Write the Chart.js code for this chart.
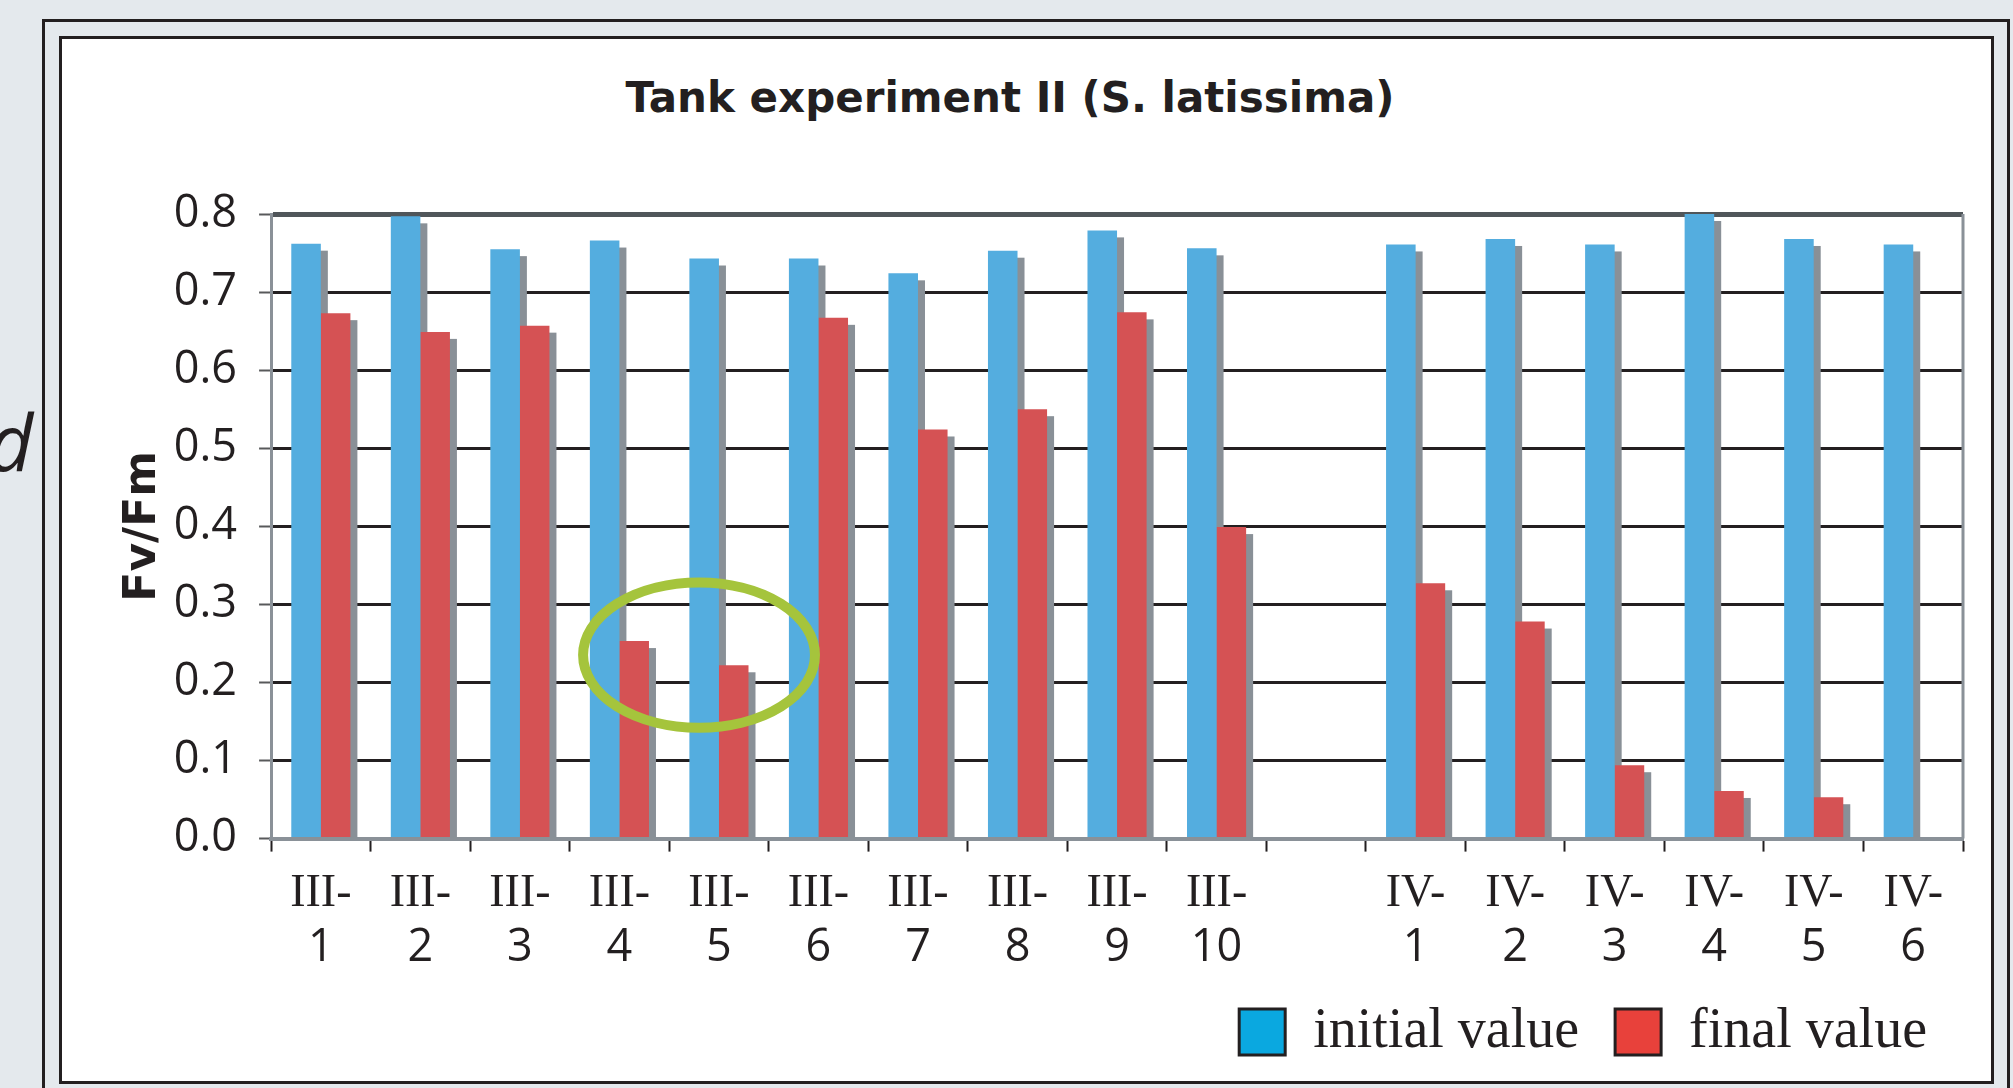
<!DOCTYPE html>
<html>
<head>
<meta charset="utf-8">
<title>Tank experiment II (S. latissima)</title>
<script src="https://cdn.jsdelivr.net/npm/chart.js@4.4.1/dist/chart.umd.min.js"></script>
<style>
    html, body { margin: 0; padding: 0; }
    body { width: 2013px; height: 1088px; background: #e4e9ed; position: relative; overflow: hidden; }
    #outerFrame { position: absolute; left: 42px; top: 19px; width: 1968px; height: 1120px; border: 3px solid #231f20; box-sizing: border-box; }
    #innerFrame { position: absolute; left: 59px; top: 36px; width: 1935px; height: 1048px; border: 3px solid #231f20; box-sizing: border-box; background: #ffffff; }
    #chartTitle { position: absolute; left: 0; top: 77px; width: 2020px; text-align: center; font-family: 'DejaVu Sans'; font-weight: bold; font-size: 42px; line-height: 41px; color: #231f20; }
    #pageFragment { position: absolute; left: -12px; top: 402px; font-family: 'Open Sans'; font-style: italic; font-weight: 400; font-size: 78px; line-height: 78px; color: #231f20; }
    #chartBox { position: absolute; left: 62px; top: 39px; width: 1928px; height: 1041px; }
</style>
</head>
<body>
<div id="pageFragment">d</div>
<div id="outerFrame"></div>
<div id="innerFrame"></div>
<div id="chartTitle">Tank experiment II (S. latissima)</div>
<div id="chartBox"><canvas id="tankGraph"></canvas></div>
<script>
// x labels, split in two rows like the original (roman part / number part)
const seriesRoman = ['III-', 'III-', 'III-', 'III-', 'III-', 'III-', 'III-', 'III-', 'III-', 'III-', '',
    'IV-', 'IV-', 'IV-', 'IV-', 'IV-', 'IV-'];
const seriesNumber = ['1', '2', '3', '4', '5', '6', '7', '8', '9', '10', '',
    '1', '2', '3', '4', '5', '6'];

// Fv/Fm values
const initialValues = [0.762, 0.797, 0.755, 0.766, 0.743, 0.743, 0.724, 0.753, 0.779, 0.756, null,
    0.761, 0.768, 0.761, 0.800, 0.768, 0.761];
const finalValues = [0.673, 0.649, 0.657, 0.253, 0.222, 0.667, 0.524, 0.550, 0.674, 0.399, null,
    0.327, 0.278, 0.094, 0.061, 0.053, null];

const seriesNames = ['initial value', 'final value'];
const yTicks = [0.0, 0.1, 0.2, 0.3, 0.4, 0.5, 0.6, 0.7, 0.8];

// highlight ellipse around III-4 / III-5 (category index, value, radii in category / value units)
const highlightCenter = [3.8, 0.235];
const highlightRadius = [1.165, 0.093];

const BAR_BLUE = '#54addf';
const BAR_RED = '#d55254';
const LEGEND_BLUE = '#0aa8e0';
const LEGEND_RED = '#e8413b';
const SHADOW_GRAY = '#899097';
const AXIS_GRAY = '#8a9198';
const INK = '#231f20';
const SHADOW_OFFSET = 7;

// draws the grey offset "3d" shadow behind each bar, the right frame and the green ellipse
const barDecorPlugin = {
    id: 'barDecor',
    beforeDatasetsDraw(chart) {
        const { ctx, chartArea } = chart;
        ctx.save();
        ctx.beginPath();
        ctx.rect(chartArea.left, chartArea.top, chartArea.width, chartArea.height);
        ctx.clip();
        ctx.fillStyle = SHADOW_GRAY;
        chart.data.datasets.forEach((ds, i) => {
            chart.getDatasetMeta(i).data.forEach((bar, j) => {
                if (ds.data[j] === null) return;
                const p = bar.getProps(['x', 'y', 'base', 'width'], true);
                ctx.fillRect(p.x - p.width / 2 + SHADOW_OFFSET, p.y + SHADOW_OFFSET, p.width, p.base - p.y - SHADOW_OFFSET);
            });
        });
        ctx.restore();
    },
    afterDatasetsDraw(chart) {
        const { ctx, chartArea, scales } = chart;
        ctx.save();
        ctx.strokeStyle = AXIS_GRAY;
        ctx.lineWidth = 3;
        ctx.beginPath();
        ctx.moveTo(chartArea.right, chartArea.top);
        ctx.lineTo(chartArea.right, chartArea.bottom);
        ctx.stroke();

        const cx = scales.x.getPixelForValue(highlightCenter[0]);
        const cy = scales.y.getPixelForValue(highlightCenter[1]);
        const rx = highlightRadius[0] * (scales.x.getPixelForValue(1) - scales.x.getPixelForValue(0));
        const ry = scales.y.getPixelForValue(0) - scales.y.getPixelForValue(highlightRadius[1]);
        ctx.strokeStyle = '#a5c43c';
        ctx.lineWidth = 10;
        ctx.beginPath();
        ctx.ellipse(cx, cy, rx, ry, 0, 0, Math.PI * 2);
        ctx.stroke();
        ctx.restore();
    }
};

function grid_color(ctx) {
    if (!ctx.tick) return INK;
    if (ctx.tick.value === 0) return AXIS_GRAY;
    if (ctx.tick.value > 0.79) return '#50565a';
    return INK;
}

function grid_width(ctx) {
    if (ctx.tick && ctx.tick.value > 0.79) return 5;
    return 3;
}

// build config for the tank experiment graph
function _build_tank_config() {
    const legendColors = [LEGEND_BLUE, LEGEND_RED];
    return {
        type: 'bar',
        data: {
            labels: seriesRoman,
            datasets: [
                { label: seriesNames[0], data: initialValues, backgroundColor: BAR_BLUE },
                { label: seriesNames[1], data: finalValues, backgroundColor: BAR_RED }
            ]
        },
        options: {
            responsive: true,
            maintainAspectRatio: false,
            animation: false,
            categoryPercentage: 0.594,
            barPercentage: 1.0,
            layout: { padding: { top: 175, right: 27, bottom: 10, left: 0 } },
            plugins: {
                title: { display: false },
                tooltip: { enabled: false },
                legend: {
                    position: 'bottom',
                    align: 'end',
                    labels: {
                        boxWidth: 46,
                        boxHeight: 46,
                        padding: 36,
                        color: INK,
                        font: { family: "'Liberation Serif'", size: 56 },
                        generateLabels: (chart) => chart.data.datasets.map((ds, i) => ({
                            text: ds.label,
                            fillStyle: legendColors[i],
                            strokeStyle: INK,
                            lineWidth: 3,
                            hidden: false,
                            datasetIndex: i,
                            fontColor: INK
                        }))
                    }
                }
            },
            scales: {
                x: {
                    type: 'category',
                    position: 'bottom',
                    weight: 0,
                    offset: true,
                    grid: { display: true, drawOnChartArea: false, drawTicks: true, tickLength: 13, tickColor: INK, tickWidth: 2, offset: true },
                    border: { display: true, color: AXIS_GRAY, width: 4 },
                    ticks: { autoSkip: false, maxRotation: 0, padding: 14.4, color: INK, font: { family: "'Liberation Serif'", size: 46 } }
                },
                x2: {
                    // second label row (numbers); mirrored so its text is not clipped to the thin axis box,
                    // empty title only reserves the room below it
                    type: 'category',
                    position: 'bottom',
                    weight: 1,
                    labels: seriesNumber,
                    offset: true,
                    grid: { display: false },
                    border: { display: false },
                    title: { display: true, text: '', font: { size: 1, lineHeight: 1 }, padding: { top: 58.4, bottom: 0 } },
                    ticks: { autoSkip: false, maxRotation: 0, mirror: true, padding: -17.5, color: INK, font: { family: "'Open Sans'", size: 45, lineHeight: 0.2 } }
                },
                y: {
                    min: yTicks[0],
                    max: yTicks[yTicks.length - 1],
                    afterBuildTicks: (scale) => { scale.ticks = yTicks.map(v => ({ value: v })); },
                    grid: { color: grid_color, lineWidth: grid_width, tickLength: 12, tickColor: '#58595b', tickWidth: 2 },
                    border: { display: true, color: AXIS_GRAY, width: 3 },
                    ticks: {
                        padding: 22,
                        color: INK,
                        font: { family: "'Open Sans'", size: 45 },
                        callback: (v) => Number(v).toFixed(1)
                    },
                    title: {
                        display: true,
                        text: 'Fv/Fm',
                        color: INK,
                        font: { family: "'DejaVu Sans'", size: 44, weight: 'bold' },
                        padding: { top: 55, bottom: -18 }
                    }
                }
            }
        },
        plugins: [barDecorPlugin]
    };
}

// function to create the tank experiment graph
function create_tank_graph() {
    console.log("creating_tank_graph");
    return new Chart("tankGraph", _build_tank_config());
}

create_tank_graph();
</script>
</body>
</html>
